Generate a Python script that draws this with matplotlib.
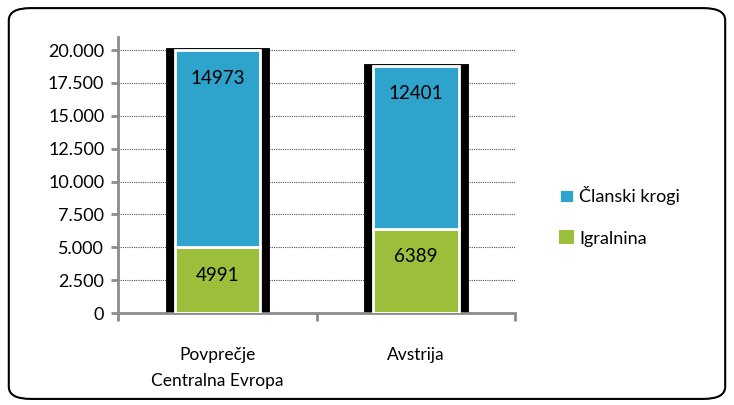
import matplotlib.pyplot as plt
from matplotlib.patches import FancyBboxPatch

plt.rcParams['font.family'] = ['Lato', 'DejaVu Sans']

categories = ['Povprečje\nCentralna Evropa', 'Avstrija']
igralnina = [4991, 6389]
clanski = [14973, 12401]
yticks = [0, 2500, 5000, 7500, 10000, 12500, 15000, 17500, 20000]
ytick_labels = ['0', '2.500', '5.000', '7.500', '10.000', '12.500', '15.000', '17.500', '20.000']

blue = '#2ea3cc'
green = '#9cbf3b'

fig = plt.figure(figsize=(7.34, 4.05), dpi=100)
ax = fig.add_axes([0.161, 0.227, 0.541, 0.682])

x = range(len(categories))
totals = [a + b for a, b in zip(igralnina, clanski)]

# black frame behind each stacked bar
ax.bar(x, totals, width=0.5, color='black', edgecolor='black', linewidth=3.5, zorder=2)
ax.bar(x, igralnina, width=0.43, color=green, edgecolor='white', linewidth=2, zorder=3)
ax.bar(x, clanski, bottom=igralnina, width=0.43, color=blue, edgecolor='white',
       linewidth=2, zorder=3, label='Članski krogi')
# legend order: Članski krogi first
ax.bar([0], [0], color=green, label='Igralnina')

for i in x:
    ax.text(i, igralnina[i] - 2100, str(igralnina[i]), ha='center', va='center',
            fontsize=13.5, zorder=4)
    ax.text(i, totals[i] - 2100, str(clanski[i]), ha='center',
            va='center', fontsize=13.5, zorder=4)

ax.set_xlim(-0.5, 1.5)
ax.set_ylim(0, 21000)
ax.set_yticks(yticks)
ax.set_yticklabels(ytick_labels, fontsize=13)
ax.set_xticks([-0.5, 0.5, 1.5], minor=False)
ax.set_xticklabels(['', '', ''])
for i, c in enumerate(categories):
    ax.text(i, -2600, c, ha='center', va='top', fontsize=12.5, linespacing=1.75)

ax.grid(axis='y', linestyle=(0, (1, 1)), color='#555555', linewidth=0.8, zorder=0)
ax.set_axisbelow(True)
for s in ['top', 'right']:
    ax.spines[s].set_visible(False)
for s in ['left', 'bottom']:
    ax.spines[s].set_color('#8c8c8c')
    ax.spines[s].set_linewidth(2)
ax.tick_params(axis='y', length=5, width=2, color='#8c8c8c', pad=5)
ax.tick_params(axis='x', length=6, width=2, color='#8c8c8c')

ax.legend(loc='center left', bbox_to_anchor=(1.07, 0.35), frameon=False,
          fontsize=13, handlelength=0.8, handleheight=0.8, labelspacing=1.4,
          handletextpad=0.3)

border = FancyBboxPatch((0.012, 0.015), 0.976, 0.965, boxstyle='round,pad=0,rounding_size=0.03',
                        transform=fig.transFigure, facecolor='none', edgecolor='black',
                        linewidth=1.5)
fig.patches.append(border)

fig.savefig('out.png', dpi=100)
